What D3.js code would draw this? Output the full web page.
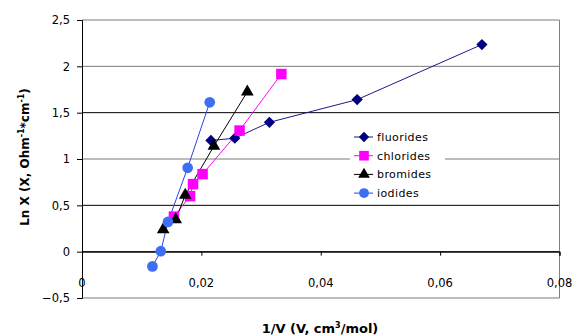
<!DOCTYPE html>
<html>
<head>
<meta charset="utf-8">
<script src="https://cdn.jsdelivr.net/npm/d3@7"></script>
<style>
  body { margin: 0; background: #fff; }
  text { font-family: "DejaVu Sans", sans-serif; fill: #000; }
</style>
</head>
<body>
<div id="chart"></div>
<script>
// values
var fluoridesX = [0.0216, 0.0256, 0.0314, 0.0461, 0.0670];
var fluoridesY = [1.20, 1.224, 1.396, 1.641, 2.235];
var chloridesX = [0.0154, 0.0181, 0.0186, 0.0202, 0.0264, 0.0334];
var chloridesY = [0.378, 0.599, 0.729, 0.837, 1.307, 1.917];
var bromidesX = [0.0136, 0.0157, 0.0173, 0.0221, 0.0277];
var bromidesY = [0.238, 0.346, 0.610, 1.139, 1.725];
var iodidesX = [0.0118, 0.0132, 0.0144, 0.0177, 0.0214];
var iodidesY = [-0.159, 0.005, 0.321, 0.905, 1.612];
var xTicks = [0, 0.02, 0.04, 0.06, 0.08];
var yTicks = [-0.5, 0, 0.5, 1, 1.5, 2, 2.5];
var seriesNames = ["fluorides", "chlorides", "bromides", "iodides"];

var width = 575, height = 336;
var plotLeft = 82, plotRight = 559.5, plotTop = 20, plotBottom = 298;

var svg = d3.select("#chart").append("svg")
    .attr("width", width)
    .attr("height", height);

var x = d3.scaleLinear().domain([0, 0.08]).range([plotLeft, plotRight]);
var y = d3.scaleLinear().domain([-0.5, 2.5]).range([plotBottom, plotTop]);

var fmt = function(d) { return String(d).replace(".", ",").replace("-", "\u2212"); };

// gridlines
svg.append("g").selectAll("line")
    .data(yTicks)
    .enter().append("line")
    .attr("x1", plotLeft).attr("x2", plotRight)
    .attr("y1", function(d) { return y(d); })
    .attr("y2", function(d) { return y(d); })
    .attr("stroke", function(d) { return (d == 2.5 || d == -0.5 || d == 2 || d == 1) ? "#7a7a7a" : "#000"; })
    .attr("stroke-width", 1);

// right border
svg.append("line")
    .attr("x1", plotRight).attr("x2", plotRight)
    .attr("y1", plotTop).attr("y2", plotBottom)
    .attr("stroke", "#808080");

// y axis
var yAxis = d3.axisLeft(y).tickValues(yTicks).tickSize(5).tickPadding(7).tickFormat(fmt);
var gy = svg.append("g").attr("transform", "translate(" + plotLeft + ",0)").call(yAxis);
gy.select(".domain").attr("stroke", "#000");
gy.selectAll("text").style("font-size", "11.5px").attr("font-family", "DejaVu Sans");

// x axis at y = 0, labels low
var xAxis = d3.axisBottom(x).tickValues(xTicks).tickSize(4).tickFormat("");
var gx = svg.append("g").attr("transform", "translate(0," + y(0) + ")").call(xAxis);
gx.select(".domain").attr("stroke", "#000");

svg.append("g").selectAll("text")
    .data(xTicks)
    .enter().append("text")
    .attr("x", function(d) { return x(d); })
    .attr("y", 287)
    .attr("text-anchor", "middle")
    .style("font-size", "11.5px")
    .text(fmt);

// axis titles
var yt = svg.append("text")
    .attr("transform", "translate(29,157) rotate(-90)")
    .attr("text-anchor", "middle")
    .style("font-size", "12px")
    .style("font-weight", "bold");
yt.append("tspan").text("Ln X (X, Ohm");
yt.append("tspan").attr("dy", -5).style("font-size", "8px").text("-1");
yt.append("tspan").attr("dy", 5).text("*cm");
yt.append("tspan").attr("dy", -5).style("font-size", "8px").text("-1");
yt.append("tspan").attr("dy", 5).text(")");

var xt = svg.append("text")
    .attr("x", 320).attr("y", 333)
    .attr("text-anchor", "middle")
    .style("font-size", "13px")
    .style("font-weight", "bold");
xt.append("tspan").text("1/V (V, cm");
xt.append("tspan").attr("dy", -5).style("font-size", "8px").text("3");
xt.append("tspan").attr("dy", 5).text("/mol)");

// series
var series = [
    { name: seriesNames[0], xs: fluoridesX, ys: fluoridesY, color: "#000080", line: "#1a1a8c", sym: d3.symbolDiamond2, size: 80 },
    { name: seriesNames[1], xs: chloridesX, ys: chloridesY, color: "#ff00ff", line: "#ff00ff", sym: d3.symbolSquare, size: 110 },
    { name: seriesNames[2], xs: bromidesX, ys: bromidesY, color: "#000000", line: "#000000", sym: d3.symbolTriangle, size: 70 },
    { name: seriesNames[3], xs: iodidesX, ys: iodidesY, color: "#3d6ff2", line: "#2a44e8", sym: d3.symbolCircle, size: 90 }
];

var line = d3.line()
    .x(function(d) { return x(d[0]); })
    .y(function(d) { return y(d[1]); });

series.forEach(function(s) {
    var pts = s.xs.map(function(v, i) { return [v, s.ys[i]]; });
    svg.append("path")
        .datum(pts)
        .attr("d", line)
        .attr("fill", "none")
        .attr("stroke", s.line)
        .attr("stroke-width", 1);
});

series.forEach(function(s) {
    var pts = s.xs.map(function(v, i) { return [v, s.ys[i]]; });
    svg.append("g").selectAll("path")
        .data(pts)
        .enter().append("path")
        .attr("d", d3.symbol().type(s.sym).size(s.size))
        .attr("transform", function(d) { return "translate(" + x(d[0]) + "," + y(d[1]) + ")"; })
        .attr("fill", s.color);
});

// legend
var legend = svg.append("g").attr("transform", "translate(350,126)");
legend.append("rect")
    .attr("x", 0).attr("y", 0)
    .attr("width", 95).attr("height", 76)
    .attr("fill", "#fff");
var items = legend.selectAll("g.item")
    .data(series)
    .enter().append("g")
    .attr("class", "item")
    .attr("transform", function(d, i) { return "translate(0," + (11 + i * 18.7) + ")"; });
items.append("line")
    .attr("x1", 4).attr("x2", 23)
    .attr("stroke", function(d) { return d.line; });
items.append("path")
    .attr("d", function(d) { return d3.symbol().type(d.sym).size(d.size * 0.85)(); })
    .attr("transform", "translate(14,0)")
    .attr("fill", function(d) { return d.color; });
items.append("text")
    .attr("x", 27).attr("y", 4)
    .style("font-size", "11px")
    .style("letter-spacing", "0.4px")
    .text(function(d) { return d.name; });
</script>
</body>
</html>
